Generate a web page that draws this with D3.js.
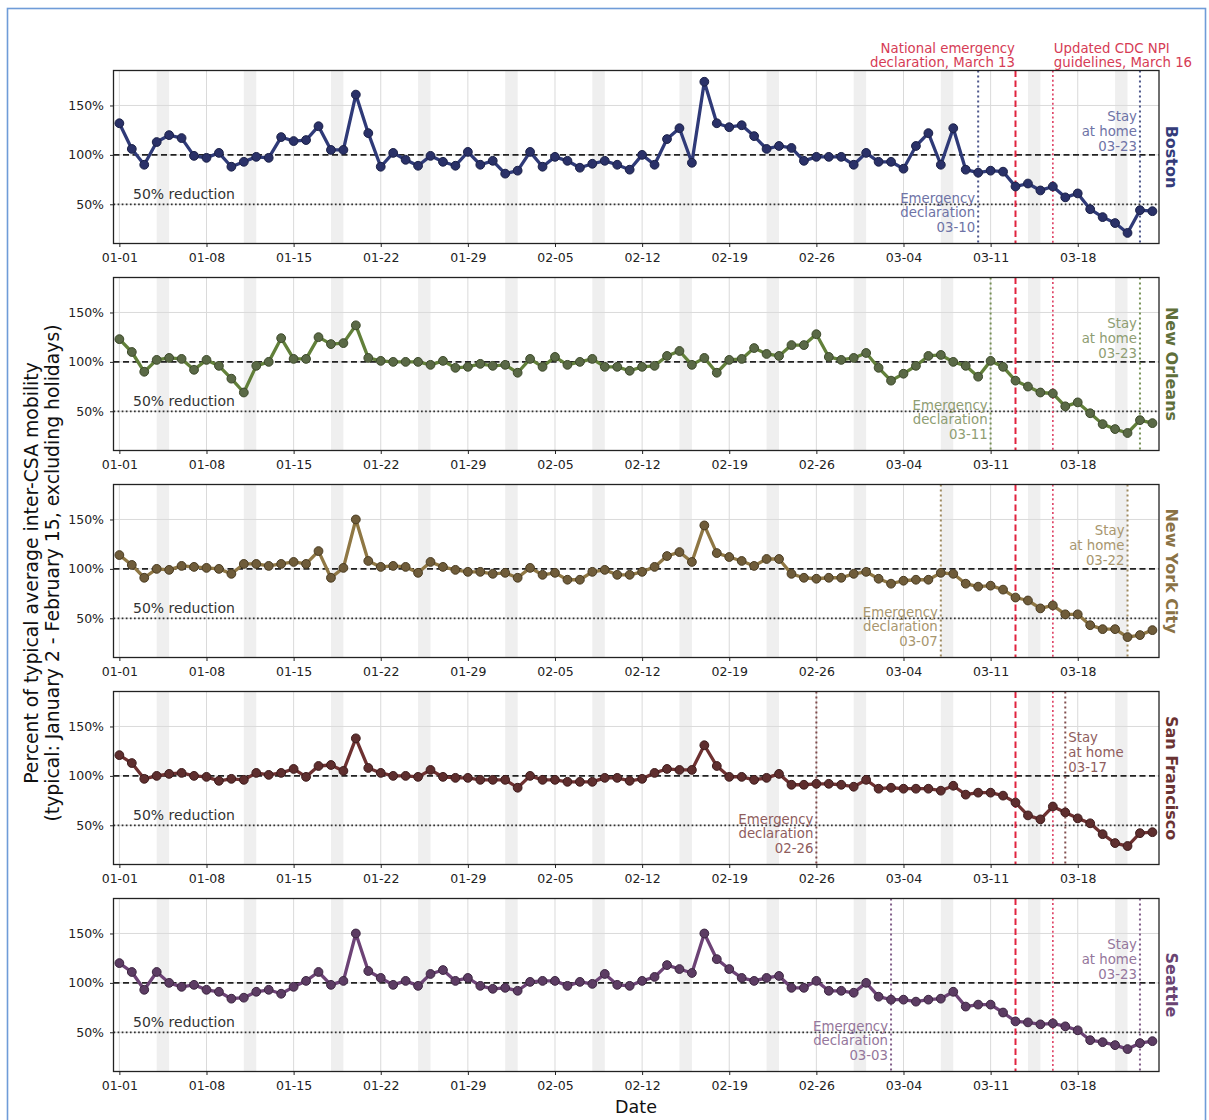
<!DOCTYPE html>
<html>
<head>
<meta charset="utf-8">
<script src="https://cdn.jsdelivr.net/npm/d3@7"></script>
<style>
  body { margin: 0; background: #fff; }
  svg { display: block; font-family: "DejaVu Sans", sans-serif; }
</style>
</head>
<body>
<svg id="chart" width="1209" height="1120"></svg>
<script>
// Daily inter-CSA mobility, percent of typical, 2020-01-01 .. 2020-03-24
const cities = ["Boston", "New Orleans", "New York City", "San Francisco", "Seattle"];

const boston = [
  132,106,90,113,120,117,99,97,102,88,
  93,98,97,118,114,115,129,105,105,161,
  122,88,102,95,89,99,93,89,103,90,
  94,81,84,103,88,98,94,87,91,94,
  90,85,100,90,116,127,92,174,132,128,
  130,119,106,109,107,94,98,98,98,90,
  102,93,93,86,109,122,90,127,85,82,
  84,83,68,71,64,68,57,61,45,37,
  31,21,44,43
];
const newOrleans = [
  123,110,90,102,104,103,92,102,96,83,
  69,96,100,124,103,103,125,118,119,137,
  104,101,100,100,100,97,101,94,95,98,
  96,97,89,103,95,105,97,100,103,95,
  95,91,95,96,106,111,97,104,89,102,
  103,114,108,106,117,117,128,105,102,104,
  109,94,81,88,96,106,107,100,96,85,
  101,95,81,75,69,68,55,59,48,37,
  32,28,41,38
];
const newYorkCity = [
  114,104,91,100,99,103,102,101,100,95,
  105,105,103,105,107,105,118,91,101,150,
  108,102,103,102,96,107,102,99,97,97,
  95,96,91,101,94,96,89,89,97,99,
  94,94,97,102,113,117,107,144,116,112,
  108,103,110,110,95,91,90,91,91,95,
  97,90,85,88,89,89,96,95,85,82,
  83,79,71,68,60,63,54,54,43,39,
  39,31,33,38
];
const sanFrancisco = [
  121,113,97,100,102,103,100,99,95,97,
  96,103,101,103,107,99,110,111,105,138,
  108,103,100,100,99,106,99,98,98,96,
  96,96,88,100,96,96,94,94,94,98,
  98,95,97,103,107,106,106,131,110,99,
  99,96,98,102,91,91,92,92,91,89,
  96,87,88,87,87,87,85,90,81,83,
  83,80,73,60,56,69,63,57,52,41,
  32,29,42,43
];
const seattle = [
  120,111,93,111,100,96,98,93,91,84,
  85,91,93,89,96,102,111,98,102,150,
  112,105,98,102,97,109,113,102,105,97,
  94,95,92,101,102,102,97,101,99,109,
  98,97,102,106,118,114,110,150,124,114,
  105,102,105,107,95,95,102,92,92,90,
  100,86,83,83,81,83,84,91,76,78,
  78,70,61,60,58,59,56,52,42,40,
  37,33,39,41
];

const seriesByCity = [boston, newOrleans, newYorkCity, sanFrancisco, seattle];
const emergencyDates = ["03-10", "03-11", "03-07", "02-26", "03-03"];
const stayHomeDates  = ["03-23", "03-23", "03-22", "03-17", "03-23"];
const nationalEmergencyDate = "03-13";
const cdcGuidelinesDate = "03-16";

const xTickLabels = ["01-01","01-08","01-15","01-22","01-29","02-05","02-12","02-19","02-26","03-04","03-11","03-18"];
const yTicks = [50, 100, 150];
const typicalLevel = 100;
const halfLevel = 50;

// Colours per city: line, marker fill, marker edge, title, annotation text
const lineColors   = ["#2f3a78", "#62803a", "#8f7744", "#6e3131", "#6d4376"];
const markerFill   = ["#2a3168", "#5a6946", "#6f5c3a", "#5e2e2e", "#5c3c63"];
const markerEdge   = ["#1b2148", "#3d4a2b", "#4a3c22", "#3e1c1c", "#3c2641"];
const titleColors  = ["#343c7a", "#5f6f3b", "#8a7245", "#6a3333", "#6a4472"];
const noteColors   = ["#6e73a6", "#8e9d72", "#a8966e", "#8f5d5d", "#94769b"];
const alertRed = "#d63c55";

// ---------------------------------------------------------------------------
const parseDay = d3.utcParse("%Y-%m-%d");
const toDate = md => parseDay("2020-" + md);
const firstDay = toDate("01-01");
const days = seriesByCity[0].map((_, i) => d3.utcDay.offset(firstDay, i));
const lastDay = days[days.length - 1];
const HOUR = 3600 * 1000;

const svg = d3.select("#chart");

// figure border
svg.append("rect")
  .attr("x", 7.5).attr("y", 8.5).attr("width", 1198).attr("height", 1125)
  .attr("fill", "none").attr("stroke", "#6f9cd8").attr("stroke-width", 1.6);

const left = 113.5, right = 1159, panelH = 173, pitch = 207, firstTop = 70.5;

const x = d3.scaleTime()
  .domain([new Date(+firstDay - 11.3 * HOUR), new Date(+lastDay + 12.7 * HOUR)])
  .range([left, right]);

const y = d3.scaleLinear().domain([10.3, 185.4]).range([panelH, 0]);

const tickDates = xTickLabels.map(toDate);
const saturdays = d3.utcSaturday.range(firstDay, d3.utcDay.offset(lastDay, 1));

cities.forEach((city, ci) => {
  const top = firstTop + ci * pitch;
  const g = svg.append("g").attr("transform", `translate(0,${top})`);
  const vals = seriesByCity[ci];

  const clipId = "clip" + ci;
  g.append("clipPath").attr("id", clipId)
    .append("rect").attr("x", left).attr("y", 0).attr("width", right - left).attr("height", panelH);

  const plot = g.append("g").attr("clip-path", `url(#${clipId})`);

  // weekend shading
  plot.selectAll(".wk").data(saturdays).join("rect")
    .attr("x", d => x(d))
    .attr("width", d => x(d3.utcDay.offset(d, 1)) - x(d))
    .attr("y", 0).attr("height", panelH)
    .attr("fill", "#efefef");

  // grid
  plot.selectAll(".vg").data(tickDates).join("line")
    .attr("x1", d => x(d)).attr("x2", d => x(d))
    .attr("y1", 0).attr("y2", panelH)
    .attr("stroke", "#dadada").attr("stroke-width", 1);
  plot.selectAll(".hg").data(yTicks).join("line")
    .attr("x1", left).attr("x2", right)
    .attr("y1", d => y(d)).attr("y2", d => y(d))
    .attr("stroke", "#dadada").attr("stroke-width", 1);

  // reference levels
  plot.append("line")
    .attr("x1", left).attr("x2", right)
    .attr("y1", y(typicalLevel)).attr("y2", y(typicalLevel))
    .attr("stroke", "#222").attr("stroke-width", 1.7)
    .attr("stroke-dasharray", "6,3.5");
  plot.append("line")
    .attr("x1", left).attr("x2", right)
    .attr("y1", y(halfLevel)).attr("y2", y(halfLevel))
    .attr("stroke", "#333").attr("stroke-width", 1.7)
    .attr("stroke-dasharray", "1.7,2.4");
  g.append("text")
    .attr("x", 133).attr("y", y(halfLevel) - 5)
    .attr("font-size", 14).attr("fill", "#333")
    .text("50% reduction");

  // event lines
  const vline = (date, color, dash, width, opacity) =>
    plot.append("line")
      .attr("x1", x(date)).attr("x2", x(date))
      .attr("y1", 0).attr("y2", panelH)
      .attr("stroke", color).attr("stroke-width", width)
      .attr("stroke-dasharray", dash).attr("opacity", opacity);

  const emDate = toDate(emergencyDates[ci]);
  const stDate = toDate(stayHomeDates[ci]);
  vline(emDate, lineColors[ci], "2,3", 2, 0.85);
  vline(toDate(nationalEmergencyDate), "#e0233f", "6.5,3.5", 2, 1);
  vline(toDate(cdcGuidelinesDate), "#e0486a", "2,2.6", 1.7, 1);
  vline(stDate, lineColors[ci], "2,3", 2, 0.85);

  // event annotations
  const note = (lines, xPos, anchor, baselines) => {
    const t = g.append("text")
      .attr("font-size", 13.3).attr("fill", noteColors[ci])
      .attr("text-anchor", anchor);
    lines.forEach((ln, i) => t.append("tspan").attr("x", xPos).attr("y", baselines[i]).text(ln));
  };
  note(["Emergency", "declaration", emergencyDates[ci]], x(emDate) - 3, "end",
       [panelH - 41, panelH - 26.5, panelH - 12]);
  const stayOnRight = x(stDate) < 1100;
  note(["Stay", "at home", stayHomeDates[ci]],
       stayOnRight ? x(stDate) + 3 : x(stDate) - 3,
       stayOnRight ? "start" : "end",
       [50.5, 65, 80]);

  // series
  const line = d3.line().x((d, i) => x(days[i])).y(d => y(d));
  plot.append("path").datum(vals)
    .attr("d", line)
    .attr("fill", "none").attr("stroke", lineColors[ci])
    .attr("stroke-width", 3.3).attr("stroke-linejoin", "round");
  plot.selectAll(".pt").data(vals).join("circle")
    .attr("cx", (d, i) => x(days[i])).attr("cy", d => y(d))
    .attr("r", 4.4)
    .attr("fill", markerFill[ci]).attr("stroke", markerEdge[ci]).attr("stroke-width", 1);

  // frame
  g.append("rect")
    .attr("x", left).attr("y", 0).attr("width", right - left).attr("height", panelH)
    .attr("fill", "none").attr("stroke", "#222").attr("stroke-width", 1.3);

  // axes
  const ax = g.append("g").attr("transform", `translate(${left},0)`)
    .call(d3.axisLeft(y).tickValues(yTicks).tickFormat(d => d + "%").tickSize(3.5).tickPadding(6));
  const bx = g.append("g").attr("transform", `translate(0,${panelH})`)
    .call(d3.axisBottom(x).tickValues(tickDates).tickFormat(d3.utcFormat("%m-%d")).tickSize(3.5).tickPadding(6.5));
  [ax, bx].forEach(a => {
    a.select(".domain").remove();
    a.selectAll("text").attr("font-size", 12.5).attr("fill", "#222")
      .attr("font-family", "DejaVu Sans, sans-serif");
    a.selectAll("line").attr("stroke", "#222");
  });

  // city title on the right
  g.append("text")
    .attr("transform", `translate(1166,${panelH / 2}) rotate(90)`)
    .attr("text-anchor", "middle")
    .attr("font-size", 16).attr("font-weight", "bold")
    .attr("fill", titleColors[ci])
    .text(city);
});

// headers for the national events
const hdr = (lines, xPos, anchor) => {
  const t = svg.append("text").attr("font-size", 13.3).attr("fill", alertRed).attr("text-anchor", anchor);
  lines.forEach((ln, i) => t.append("tspan").attr("x", xPos).attr("y", 52.5 + i * 14.2).text(ln));
};
hdr(["National emergency", "declaration, March 13"], x(toDate(nationalEmergencyDate)) - 0.5, "end");
hdr(["Updated CDC NPI", "guidelines, March 16"], x(toDate(cdcGuidelinesDate)) + 1, "start");

// axis titles
const yl = svg.append("text")
  .attr("transform", "translate(37.5,573) rotate(-90)")
  .attr("text-anchor", "middle").attr("font-size", 18.8).attr("fill", "#111");
yl.append("tspan").attr("x", 0).attr("y", 0).text("Percent of typical average inter-CSA mobility");
yl.append("tspan").attr("x", 0).attr("y", 21.5).text("(typical: January 2 - February 15, excluding holidays)");

svg.append("text")
  .attr("x", 636).attr("y", 1113)
  .attr("text-anchor", "middle").attr("font-size", 17.5).attr("fill", "#111")
  .text("Date");
</script>
</body>
</html>
